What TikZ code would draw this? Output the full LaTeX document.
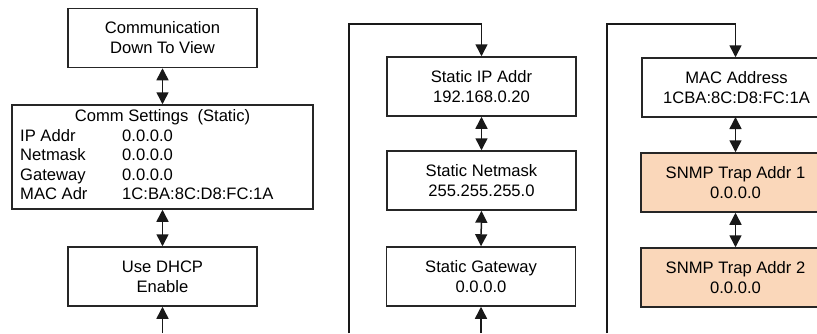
\documentclass[tikz,border=0pt]{standalone}
\usepackage{fontspec}
\setmainfont{Liberation Sans}
\usetikzlibrary{arrows.meta}
\begin{document}
\begin{tikzpicture}[x=1pt,y=-1pt,
  menubox/.style={draw=black!85, line width=1.5pt, rectangle, inner sep=0pt,
    minimum width=189pt, minimum height=59pt, align=center,
    font=\fontsize{16.6}{20}\selectfont},
  trapbox/.style={menubox, fill=snmpfill},
  rowtext/.style={anchor=base west, inner sep=0pt, font=\fontsize{16.6}{20}\selectfont},
  link/.style={line width=1.5pt, draw=black!90},
  both/.style={link, {Triangle[length=12pt,width=12pt]}-{Triangle[length=12pt,width=12pt]}},
  into/.style={link, -{Triangle[length=12pt,width=12pt]}}
]
\definecolor{snmpfill}{RGB}{250,215,186}
\useasboundingbox (0,0) rectangle (817,333);
\clip (0,0) rectangle (817,333);

% left column
\node[menubox] (comm) at (162.5,38) {Communication\\Down To View};
\node[menubox, minimum width=301pt, minimum height=104pt] (settings) at (162.5,157) {};
\node[rowtext, anchor=base] (title) at (162.5,121) {Comm Settings\ \ (Static)};
\node[rowtext] (lip) at (20,141) {IP Addr};
\node[rowtext] (vip) at (122,141) {0.0.0.0};
\node[rowtext] (lnm) at (20,160.5) {Netmask};
\node[rowtext] (vnm) at (122,160.5) {0.0.0.0};
\node[rowtext] (lgw) at (20,180) {Gateway};
\node[rowtext] (vgw) at (122,180) {0.0.0.0};
\node[rowtext] (lmac) at (20,199.5) {MAC Adr};
\node[rowtext] (vmac) at (122,199.5) {1C:BA:8C:D8:FC:1A};
\node[menubox] (dhcp) at (162.5,276.5) {Use DHCP\\Enable};
\coordinate (dhcpin) at (162.5,333);

\draw[both] (comm.south) -- (settings.north);
\draw[both] (settings.south) -- (dhcp.north);
\draw[into] (dhcpin) -- (dhcp.south);

% middle column
\node[menubox] (sip) at (481.5,86.5) {Static IP Addr\\192.168.0.20};
\node[menubox] (snm) at (481.5,180.5) {Static Netmask\\255.255.255.0};
\node[menubox] (sgw) at (481,276.5) {Static Gateway\\0.0.0.0};
\coordinate (midloop) at (349,333);
\coordinate (gwin) at (481,333);

\draw[into] (midloop) |- (481.5,24) -- (sip.north);
\draw[both] (sip.south) -- (snm.north);
\draw[both] (snm.south) -- (sgw.north);
\draw[into] (gwin) -- (sgw.south);

% right column
\node[menubox] (mac) at (736.5,87.5) {MAC Address\\1CBA:8C:D8:FC:1A};
\node[trapbox] (trap1) at (735.5,182.5) {SNMP Trap Addr 1\\0.0.0.0};
\node[trapbox] (trap2) at (735.5,277.5) {SNMP Trap Addr 2\\0.0.0.0};
\coordinate (rightloop) at (607,333);

\draw[into] (rightloop) |- (735.5,24) -- (mac.north -| 735.5,0);
\draw[both] (735.5,117) -- (trap1.north);
\draw[both] (trap1.south) -- (trap2.north);
\end{tikzpicture}
\end{document}
